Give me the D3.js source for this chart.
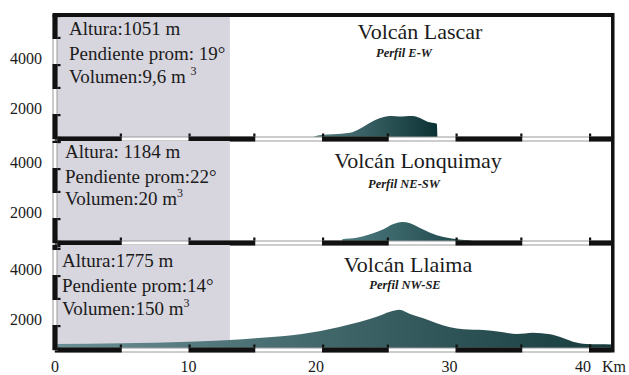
<!DOCTYPE html>
<html>
<head>
<meta charset="utf-8">
<script src="https://cdn.jsdelivr.net/npm/d3@7"></script>
<style>
  html, body { margin: 0; padding: 0; background: #fff; }
  svg { display: block; }
  text { font-family: "Liberation Serif", "DejaVu Serif", serif; fill: #1b1b1b; }
</style>
</head>
<body>
<svg id="chart" width="629" height="375"></svg>
<script>
// ---- data ----
const kmTicks = [0, 10, 20, 30, 40];
const elevTicks = [2000, 4000];

const volcanes = ["Volcán Lascar", "Volcán Lonquimay", "Volcán Llaima"];
const perfiles = ["Perfil E-W", "Perfil NE-SW", "Perfil NW-SE"];
const alturas = ["Altura:1051 m", "Altura: 1184 m", "Altura:1775 m"];
const pendientes = ["Pendiente prom: 19°", "Pendiente prom:22°", "Pendiente prom:14°"];
const volumenes = ["Volumen:9,6 m ", "Volumen:20 m", "Volumen:150 m"];

// profile samples: distance (km) and elevation (m)
const lascarKm   = [19.0, 19.9, 20.8, 22.1, 22.8, 23.2, 23.6, 24.3, 24.7, 25.1, 25.5, 26.0, 26.5, 26.8, 27.3, 27.9, 28.6, 28.65];
const lascarElev = [780, 920, 950, 1010, 1160, 1280, 1410, 1590, 1650, 1680, 1670, 1660, 1680, 1680, 1610, 1450, 1370, 760];

const lonquimayKm   = [21.5, 21.52, 22.6, 23.6, 24.6, 25.3, 26.0, 26.6, 27.3, 28.1, 29.1, 30.1, 31.3, 31.5];
const lonquimayElev = [760, 910, 970, 1110, 1310, 1510, 1600, 1550, 1370, 1170, 1000, 910, 840, 760];

const llaimaKm   = [0, 5, 10, 13.1, 15, 17, 18.5, 19.9, 21.3, 22.8, 24.1, 25.1, 25.8, 26.6, 27.6, 28.6, 29.6, 30.6, 32.1, 33.3, 34.6, 35.8, 37.1, 38.1, 38.8, 39.8, 40.8, 41.7];
const llaimaElev = [1000, 1030, 1090, 1160, 1230, 1310, 1400, 1520, 1680, 1880, 2090, 2290, 2370, 2200, 2030, 1830, 1670, 1590, 1560, 1490, 1400, 1450, 1390, 1230, 1090, 1000, 990, 980];

const profileKm = [lascarKm, lonquimayKm, llaimaKm];
const profileElev = [lascarElev, lonquimayElev, llaimaElev];

const baseElev = 760;      // elevation at the panel baseline
const segElev = 1000;      // vertical scale-bar segment
const segKm = 5;           // horizontal scale-bar segment
const infoBoxKm = 13.1;    // width of the shaded info box
const maxKm = 41.65;       // right frame

// ---- layout ----
const panelTop = [15, 141, 245];
const panelBase = [139, 243, 350];
const infoX = [69, 65, 62];
const infoDy = [[20, 45, 68], [17, 42, 64], [22, 47, 70]];
const titleX = [420, 418, 408];
const titleDy = [24, 27, 27];
const subX = [404, 404, 405];
const subDy = [42, 47, 44];
const gradStops = [["#5b8388", "#0c3234"], ["#4f7c82", "#1a4244"], ["#6a8f94", "#163c3e"]];

const svg = d3.select("#chart");
const defs = svg.append("defs");

const x = d3.scaleLinear().domain([0, 40]).range([55, 589]);
const mPerPx = 40;

const BAR = 5; // scale-bar thickness

function drawXBar(g, yb) {
  const y0 = yb - BAR / 2;
  g.append("rect").attr("x", x(0)).attr("y", y0 + 0.5).attr("width", x(maxKm) - x(0)).attr("height", BAR - 1)
    .attr("fill", "#fff").attr("stroke", "#9a9a9a").attr("stroke-width", 1);
  const segs = d3.range(0, maxKm, segKm * 2);
  segs.forEach(s => {
    const e = Math.min(s + segKm, maxKm);
    g.append("rect").attr("x", x(s)).attr("y", y0).attr("width", x(e) - x(s)).attr("height", BAR).attr("fill", "#111");
    [s, e].forEach(v => {
      if (v < maxKm) g.append("rect").attr("x", x(v) - (v === s ? 0 : 2)).attr("y", y0 - 3).attr("width", 2.2).attr("height", 3).attr("fill", "#111");
    });
  });
}

function drawYBar(g, y, top, yb) {
  const xc = x(0);
  g.append("rect").attr("x", xc - BAR / 2 + 0.5).attr("y", top).attr("width", BAR - 1).attr("height", yb - top)
    .attr("fill", "#fff").attr("stroke", "#9a9a9a").attr("stroke-width", 1);
  const topElev = y.invert(top);
  for (let s = baseElev; s < topElev; s += segElev * 2) {
    const e = Math.min(s + segElev, topElev);
    const ya = y(e), yz = y(s);
    g.append("rect").attr("x", xc - BAR / 2).attr("y", ya).attr("width", BAR).attr("height", yz - ya).attr("fill", "#111");
    [ya, yz].forEach((yy, i) => {
      g.append("rect").attr("x", xc + BAR / 2).attr("y", i === 0 ? yy : yy - 2.2).attr("width", 3).attr("height", 2.2).attr("fill", "#111");
    });
  }
}

volcanes.forEach((name, i) => {
  const top = panelTop[i], yb = panelBase[i];
  const y = d3.scaleLinear().domain([baseElev, baseElev + (yb - top) * mPerPx]).range([yb, top]);
  const g = svg.append("g");

  // shaded info box
  g.append("rect").attr("x", x(0)).attr("y", top).attr("width", x(infoBoxKm) - x(0)).attr("height", yb - top)
    .attr("fill", "#d7d5de");

  // profile
  const gid = "grad" + i;
  const grad = defs.append("linearGradient").attr("id", gid).attr("x1", "0").attr("x2", "1").attr("y1", "0").attr("y2", "0");
  grad.append("stop").attr("offset", "0").attr("stop-color", gradStops[i][0]);
  grad.append("stop").attr("offset", "1").attr("stop-color", gradStops[i][1]);

  const pts = profileKm[i].map((k, j) => [k, profileElev[i][j]]);
  const area = d3.area().curve(d3.curveMonotoneX).x(d => x(d[0])).y0(y(baseElev)).y1(d => y(d[1]));
  g.append("path").attr("d", area(pts)).attr("fill", `url(#${gid})`);

  drawXBar(g, yb);
  drawYBar(g, y, top, yb);

  // elevation ticks
  elevTicks.forEach(t => {
    g.append("text").attr("x", 42).attr("y", y(t)).attr("dy", "0.35em").attr("text-anchor", "end")
      .attr("font-size", 16).text(t);
  });

  // info text
  const fs = 19;
  g.append("text").attr("x", infoX[i]).attr("y", top + infoDy[i][0]).attr("font-size", fs).text(alturas[i]);
  g.append("text").attr("x", infoX[i]).attr("y", top + infoDy[i][1]).attr("font-size", fs).text(pendientes[i]);
  const vt = g.append("text").attr("x", infoX[i]).attr("y", top + infoDy[i][2]).attr("font-size", fs);
  vt.append("tspan").text(volumenes[i]);
  vt.append("tspan").attr("font-size", 12).attr("dy", -8).text("3");

  // titles
  g.append("text").attr("x", titleX[i]).attr("y", top + titleDy[i]).attr("text-anchor", "middle")
    .attr("font-size", 22).text(name);
  g.append("text").attr("x", subX[i]).attr("y", top + subDy[i]).attr("text-anchor", "middle")
    .attr("font-size", 12.5).attr("font-style", "italic").attr("font-weight", "bold").text(perfiles[i]);
});

// outer frame: top and right edges
svg.append("rect").attr("x", x(0) - BAR / 2).attr("y", 13).attr("width", x(maxKm) - x(0) + BAR / 2 + 2).attr("height", 4).attr("fill", "#111");
svg.append("rect").attr("x", x(maxKm)).attr("y", 13).attr("width", 3.5).attr("height", panelBase[2] + BAR / 2 - 13).attr("fill", "#111");

// distance labels
kmTicks.forEach(k => {
  svg.append("text").attr("x", x(k) - (k >= 20 ? 6 : 0)).attr("y", 372).attr("text-anchor", "middle")
    .attr("font-size", 16).text(k);
});
svg.append("text").attr("x", x(40) + 13).attr("y", 372).attr("font-size", 16).text("Km");
</script>
</body>
</html>
